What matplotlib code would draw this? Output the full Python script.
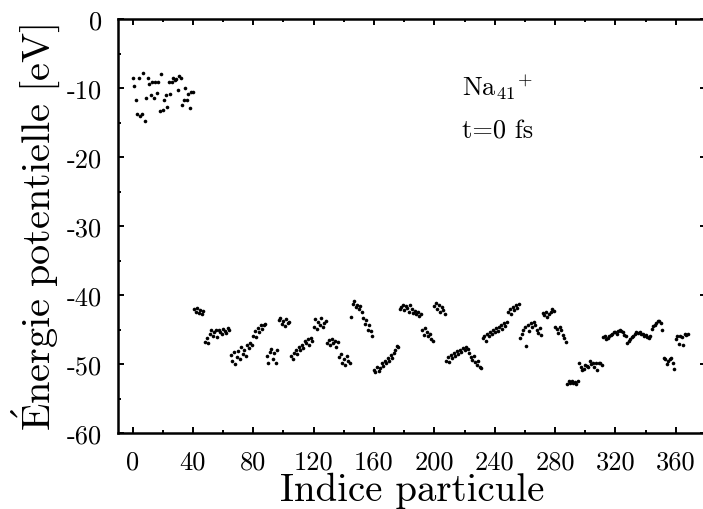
import matplotlib
matplotlib.use("Agg")
import matplotlib.pyplot as plt
from matplotlib.ticker import MultipleLocator, FuncFormatter
import numpy as np

plt.rcParams['font.family'] = ['cmr10', 'DejaVu Serif']
plt.rcParams['mathtext.fontset'] = 'cm'
plt.rcParams['axes.unicode_minus'] = False

# potential energy of the 41 ions (eV)
ion_energy = [-8.6, -9.7, -11.8, -13.8, -8.6, -14.1, -13.7, -7.8, -14.8, -11.5,
              -8.5, -9.35, -11.0, -9.2, -11.4, -9.1, -10.7, -9.1, -13.3, -7.9,
              -13.2, -11.75, -11.0, -12.7, -9.2, -10.8, -9.1, -8.5, -8.9, -8.7,
              -10.3, -8.25, -8.6, -12.4, -11.75, -10.0, -11.75, -10.8, -12.85,
              -10.55, -10.65]

# remaining particles, index 41 onwards
elec_energy_a = [-42.0, -42.4, -41.9, -42.6, -42.2, -42.7, -42.3,
                 -46.8, -46.3, -46.9, -45.6, -45.0, -45.9, -45.3, -45.1, -46.1,
                 -45.0, -45.4, -45.6, -44.9, -45.2, -45.5, -44.8, -45.0,
                 -48.7, -49.6, -48.3, -50.0, -49.0, -48.1, -49.3, -47.6, -48.5,
                 -47.9, -48.8, -47.2, -47.7, -46.9, -47.3,
                 -45.9, -45.2, -46.1, -44.8, -45.4, -44.3, -44.9, -44.4, -44.2,
                 -48.9, -49.8, -48.2, -47.8, -49.3, -48.4, -49.9, -48.0,
                 -43.6, -43.3, -44.2, -43.8, -44.5, -43.5, -44.0, -43.9]
elec_energy_b = [-48.9, -49.3, -48.4, -47.9, -48.6, -47.5, -48.0, -47.2, -47.7,
                 -46.6, -47.0, -46.4, -47.3, -46.2, -46.7,
                 -44.6, -43.5, -44.9, -43.9, -44.3, -43.4, -44.7, -44.0, -43.7,
                 -46.9, -46.5, -47.3, -46.4, -47.0, -46.6, -47.5, -46.8,
                 -49.0, -48.6, -49.8, -49.3, -50.1, -48.8, -49.5, -49.9,
                 -43.2, -41.3, -40.9, -41.8, -41.5, -42.1, -41.6, -42.4,
                 -43.3, -44.2, -43.6, -45.0, -44.4, -45.2, -45.9]
elec_energy_c = [-50.9, -51.2, -50.4, -51.0, -50.6, -49.8, -50.3, -49.5, -49.9,
                 -49.1, -49.6, -48.7, -49.2, -48.4, -47.9, -47.4, -47.6,
                 -42.0, -41.7, -41.4, -42.2, -41.6, -41.9, -42.4, -41.5, -42.1,
                 -42.6, -42.3, -42.8, -42.5, -43.0, -42.7,
                 -45.1, -45.8, -44.8, -45.4, -46.0, -45.6, -46.4, -46.7,
                 -41.6, -41.1, -42.0, -41.4, -42.5, -41.8, -42.2, -42.7,
                 -49.5, -49.0, -49.7, -48.7, -49.2, -48.4, -48.8, -48.1, -48.5,
                 -47.9, -48.3, -47.7, -48.0, -47.5, -47.8, -48.4, -49.0, -49.4,
                 -48.9, -49.7, -50.2, -49.6, -50.4, -50.6]
elec_energy_d = [-46.3, -45.9, -46.7, -45.6, -46.0, -45.3, -45.7, -45.0, -45.4,
                 -44.8, -45.2, -44.6, -44.3, -44.9, -44.1, -44.5, -43.9,
                 -42.4, -42.0, -42.8, -41.7, -42.2, -41.5, -41.9, -41.3,
                 -46.2, -45.6, -45.0, -44.6, -47.4, -44.3, -45.2, -44.1, -44.7,
                 -43.9, -44.4, -45.0, -45.5, -44.8, -45.8,
                 -42.6, -42.9, -42.4, -43.2, -42.8, -42.5, -42.1, -42.3,
                 -44.6, -44.9, -45.5, -44.7, -45.0, -45.8, -46.3, -46.8,
                 -52.9, -52.5, -52.8, -52.4, -52.7, -52.6, -52.9, -52.5]
elec_energy_e = [-49.8, -50.5, -50.9, -50.7, -50.1, -50.3, -50.5, -49.6, -50.0,
                 -49.8, -50.5, -49.8, -50.8, -49.9, -49.9, -50.2,
                 -46.1, -46.0, -46.4, -46.2, -45.9, -45.8, -45.7, -45.3, -45.4,
                 -45.6, -45.2, -45.0, -45.2, -45.3, -45.8, -46.0, -46.9, -46.6,
                 -46.4, -46.1, -45.9, -45.7, -45.4, -45.5, -45.4, -45.7, -45.6,
                 -45.9, -45.8, -46.1, -46.3, -45.9,
                 -44.9, -44.5, -44.3, -44.0, -43.8, -43.7, -44.1, -45.0,
                 -49.1, -49.3, -50.0, -49.5, -49.3, -49.2, -49.8, -50.7,
                 -46.4, -46.0, -47.1, -45.9, -46.1, -47.3, -45.7, -45.8, -45.6]

energy = np.array(ion_energy + elec_energy_a + elec_energy_b + elec_energy_c
                  + elec_energy_d + elec_energy_e)
index = np.arange(len(energy))

fig = plt.figure(figsize=(7.03, 5.10), dpi=100)
ax = fig.add_axes([117.5/703, 76/510, 588.4/703, 414/510])

ax.plot(index, energy, 'o', color='black', ms=2.6, mec='none')

ax.set_xlim(-10, 380)
ax.set_ylim(-60, 0)
ax.xaxis.set_major_locator(MultipleLocator(40))
ax.xaxis.set_minor_locator(MultipleLocator(20))
ax.yaxis.set_major_locator(MultipleLocator(10))
ax.yaxis.set_minor_locator(MultipleLocator(5))
fmt = FuncFormatter(lambda v, p: '%d' % round(v))
ax.xaxis.set_major_formatter(fmt)
ax.yaxis.set_major_formatter(fmt)

ax.tick_params(which='both', direction='in', top=True, right=True, width=1.4)
ax.tick_params(which='major', length=4.5, labelsize=19)
ax.tick_params(which='minor', length=2.5)
ax.tick_params(axis='x', which='major', pad=12)
ax.tick_params(axis='y', which='major', pad=11)
for s in ax.spines.values():
    s.set_linewidth(1.8)

ax.set_xlabel('Indice particule', fontsize=28, labelpad=-1)
ax.set_ylabel(r'$\mathrm{\acute{E}nergie\ potentielle\ [eV]}$', fontsize=29, labelpad=4)

ax.text(218.5, -11.0, r'$\mathrm{Na}_{41}{}^{+}$', fontsize=19)
ax.text(218.5, -17.2, 't=0 fs', fontsize=19)

plt.savefig('out.png', dpi=100)
